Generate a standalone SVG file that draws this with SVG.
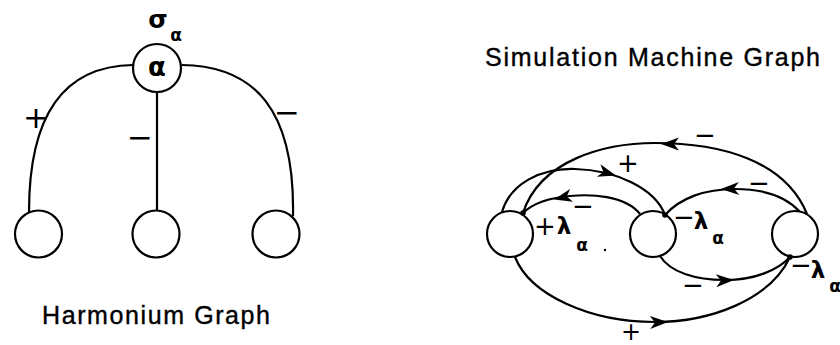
<svg xmlns="http://www.w3.org/2000/svg" xmlns:xlink="http://www.w3.org/1999/xlink" width="840" height="345" viewBox="0 0 840 345">
<style>
.node{fill:#fff;stroke:#000;stroke-width:2.2}
.edge{fill:none;stroke:#000;stroke-width:2.2}
.title{font-family:"Liberation Sans",Arial,sans-serif;font-size:25px;fill:#000;stroke:#000;stroke-width:0.4}
.sym{font-family:"DejaVu Sans",sans-serif;font-size:26px;fill:#000;text-anchor:middle}
.symL{font-family:"DejaVu Sans",sans-serif;font-size:31px;fill:#000;text-anchor:middle}
.gr{font-family:"DejaVu Sans",sans-serif;font-size:23px;font-weight:bold;fill:#000;text-anchor:middle}
.sub{font-family:"DejaVu Sans",sans-serif;font-size:17px;font-weight:bold;fill:#000;text-anchor:middle}
</style>
<defs>
<path id="arr" d="M2,0 L-16,-6.5 L-11,0 L-16,6.5 Z" fill="#000"/>
</defs>
<rect width="840" height="345" fill="#fff"/>

<!-- Harmonium graph -->
<g id="harmonium-connectors">
<path class="edge" d="M133,65 C60,66 29,120 29,212"/>
<path class="edge" d="M157,92 L157,210"/>
<path class="edge" d="M182,65 C255,66 295,110 293,216"/>
</g>
<g id="h-alpha"><circle class="node" cx="157" cy="68" r="24"/><text class="gr" x="157" y="76" style="font-size:26px">α</text></g>
<g id="h-left"><circle class="node" cx="38.5" cy="234" r="23.5"/></g>
<g id="h-mid"><circle class="node" cx="156" cy="234" r="23.5"/></g>
<g id="h-right"><circle class="node" cx="276" cy="234" r="23.5"/></g>
<g id="h-labels">
<text class="gr" x="158" y="28" style="font-size:25px">σ</text>
<text class="sub" x="176" y="41">α</text>
<text class="symL" x="36" y="128">+</text>
<text class="symL" x="140" y="148">−</text>
<text class="symL" x="287" y="123">−</text>
<text class="title" x="42" y="324" textLength="228" lengthAdjust="spacing">Harmonium Graph</text>
</g>

<!-- Simulation machine graph -->
<g id="sim-connectors">
<path class="edge" d="M502,212 C510,184 540,168 575,169 C615,170 655,188 665,215"/>
<path class="edge" d="M807,214 C785,160 720,143 655,143 C605,143 540,160 523,213"/>
<path class="edge" d="M640,214 C625,195 590,194 570,196 C548,198 532,204 523,213"/>
<path class="edge" d="M800,212 C785,195 760,189 735,189 C705,189 680,198 665,215"/>
<path class="edge" d="M660,256 C670,272 695,280 725,280 C755,280 778,270 790,257"/>
<path class="edge" d="M515,257 C530,295 590,322 655,322 C710,322 770,300 790,257"/>
<use xlink:href="#arr" transform="translate(614,175) rotate(16)"/>
<use xlink:href="#arr" transform="translate(663,144) rotate(180)"/>
<use xlink:href="#arr" transform="translate(556,199) rotate(167)"/>
<use xlink:href="#arr" transform="translate(723,189) rotate(178)"/>
<use xlink:href="#arr" transform="translate(732,280) rotate(-3)"/>
<use xlink:href="#arr" transform="translate(666,322) rotate(-2)"/>
</g>
<g id="s-left"><circle class="node" cx="510" cy="234" r="23"/><circle cx="523" cy="213" r="2.8"/></g>
<g id="s-mid"><circle class="node" cx="653" cy="234" r="23"/><circle cx="665" cy="215" r="2.8"/></g>
<g id="s-right"><circle class="node" cx="795" cy="234" r="23"/><circle cx="790" cy="257" r="2.8"/></g>
<g id="s-labels">
<text class="title" x="485" y="66" textLength="335" lengthAdjust="spacing">Simulation Machine Graph</text>
<text class="sym" x="705" y="144">−</text>
<text class="sym" x="628" y="172">+</text>
<text class="sym" x="583" y="215">−</text>
<text class="sym" x="545" y="235">+</text>
<text class="gr" x="564" y="234">λ</text>
<text class="sub" x="582" y="251">α</text>
<circle cx="605" cy="250" r="1.2"/>
<text class="sym" x="684" y="226">−</text>
<text class="gr" x="701" y="229">λ</text>
<text class="sub" x="718" y="244">α</text>
<text class="sym" x="759" y="192">−</text>
<text class="sym" x="693" y="294">−</text>
<text class="sym" x="801" y="274">−</text>
<text class="gr" x="818" y="278">λ</text>
<text class="sub" x="835" y="292">α</text>
<text class="sym" x="631" y="340" style="font-size:24px">+</text>
</g>
</svg>
